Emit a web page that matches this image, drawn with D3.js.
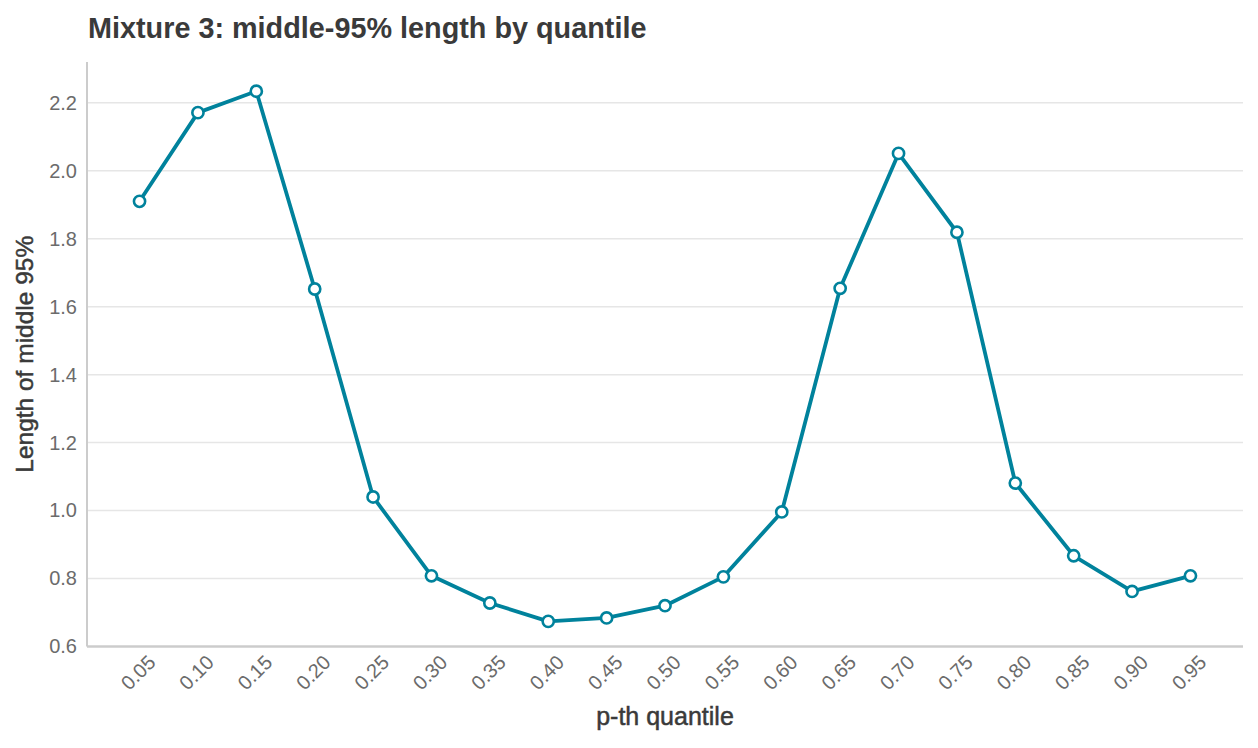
<!DOCTYPE html>
<html><head><meta charset="utf-8">
<script src="https://cdn.jsdelivr.net/npm/d3@7"></script>
<style>body{margin:0;background:#fff;font-family:"Liberation Sans",Arial,sans-serif;}</style>
</head><body><svg id="c" width="1258" height="748"></svg>
<script>
const quantiles = ["0.05","0.10","0.15","0.20","0.25","0.30","0.35","0.40","0.45","0.50","0.55","0.60","0.65","0.70","0.75","0.80","0.85","0.90","0.95"];
const lengths = [1.910,2.171,2.234,1.652,1.040,0.808,0.728,0.674,0.684,0.720,0.805,0.996,1.654,2.051,1.819,1.081,0.867,0.762,0.808];
const yTicks = [0.6,0.8,1.0,1.2,1.4,1.6,1.8,2.0,2.2];
const titleText = "Mixture 3: middle-95% length by quantile";
const xTitle = "p-th quantile";
const yTitle = "Length of middle 95%";

const svg = d3.select("#c");
const L = 87, R = 1243, T = 62, B = 646.5;
const x = d3.scalePoint().domain(quantiles).range([L, R]).padding(0.9);
const y = d3.scaleLinear().domain([0.6, 2.32]).range([B, T]);
const teal = "#00829c";
const FONT = "Liberation Sans, Arial, sans-serif";

svg.append("text").attr("x", 88).attr("y", 38).attr("font-size", 28.8).attr("font-weight", "bold")
  .attr("fill", "#3a3a3a").attr("font-family", FONT).text(titleText);

// grid
svg.append("g").selectAll("line").data(yTicks.filter(d => d > 0.6)).join("line")
  .attr("x1", L).attr("x2", R).attr("y1", d => y(d)).attr("y2", d => y(d))
  .attr("stroke", "#e6e6e6").attr("stroke-width", 1.5);

// y axis
const yAxis = svg.append("g").attr("transform", `translate(${L},0)`)
  .call(d3.axisLeft(y).tickValues(yTicks).tickFormat(d3.format(".1f")).tickSize(0).tickPadding(10));
yAxis.select(".domain").remove();
yAxis.selectAll("text").attr("font-size", 20).attr("fill", "#6b6b6b").attr("font-family", FONT);
svg.append("line").attr("x1", L).attr("x2", L).attr("y1", T).attr("y2", B)
  .attr("stroke", "#cccccc").attr("stroke-width", 2);

// x axis
const xAxis = svg.append("g").attr("transform", `translate(0,${B})`)
  .call(d3.axisBottom(x).tickSize(0).tickPadding(0));
xAxis.select(".domain").remove();
xAxis.selectAll("text")
  .attr("font-size", 20).attr("fill", "#6b6b6b").attr("font-family", FONT)
  .attr("text-anchor", "middle").attr("dy", "0.35em").attr("y", 0)
  .attr("transform", "translate(-2,26) rotate(-45)");
svg.append("line").attr("x1", L).attr("x2", R).attr("y1", B).attr("y2", B)
  .attr("stroke", "#cccccc").attr("stroke-width", 2.5);

// titles
svg.append("text").attr("x", (L + R) / 2).attr("y", 725).attr("text-anchor", "middle")
  .attr("font-size", 25).attr("fill", "#3a3a3a").attr("stroke", "#3a3a3a").attr("stroke-width", 0.5)
  .attr("font-family", FONT).text(xTitle);
svg.append("text").attr("transform", `translate(33,${(T + B) / 2}) rotate(-90)`).attr("text-anchor", "middle")
  .attr("font-size", 24.5).attr("fill", "#3a3a3a").attr("stroke", "#3a3a3a").attr("stroke-width", 0.5)
  .attr("font-family", FONT).text(yTitle);

// line
const data = quantiles.map((q, i) => ({q, v: lengths[i]}));
svg.append("path").datum(data)
  .attr("d", d3.line().x(d => x(d.q)).y(d => y(d.v)))
  .attr("fill", "none").attr("stroke", teal).attr("stroke-width", 3.8).attr("stroke-linejoin", "round");
svg.append("g").selectAll("circle").data(data).join("circle")
  .attr("cx", d => x(d.q)).attr("cy", d => y(d.v)).attr("r", 5.6)
  .attr("fill", "#fff").attr("stroke", teal).attr("stroke-width", 2.6);
</script></body></html>
